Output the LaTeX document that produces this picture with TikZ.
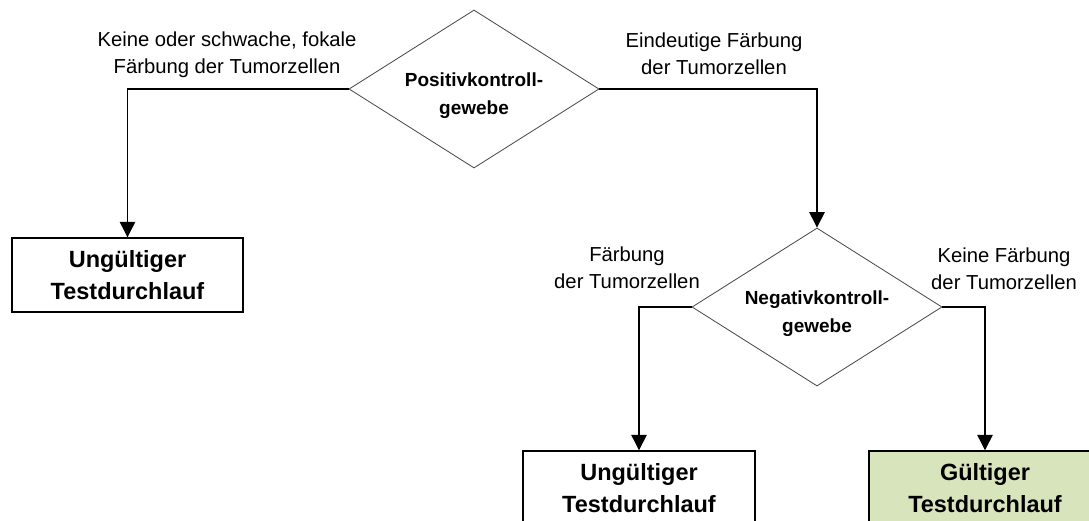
\documentclass[tikz,border=0pt]{standalone}
\usepackage{fontspec}
\setmainfont{Liberation Sans}
\usetikzlibrary{shapes.geometric,arrows.meta}
\definecolor{validGreen}{RGB}{216,228,188}
\newcommand{\dstrut}{\rule{0pt}{19pt}}

\begin{document}
\begin{tikzpicture}[
    x=0.025cm, y=-0.025cm,
    decision/.style={diamond, draw=black!70, line width=0.6pt, aspect=1.6, inner sep=0pt, minimum width=6.25cm, minimum height=3.95cm, font=\fontsize{13.5}{20}\selectfont\bfseries, align=center},
    result/.style={rectangle, draw, line width=1pt, minimum width=5.8cm, minimum height=1.85cm, font=\fontsize{16.7}{22.8}\selectfont\bfseries, align=center},
    branch/.style={font=\fontsize{14.4}{19.2}\selectfont, align=center},
    arrow/.style={-{Triangle[width=11pt,length=11pt]}, line width=0.9pt}
]
    \useasboundingbox (0,0) rectangle (1089,520);

    % Decisions
    \node[decision] (posctrl) at (474,89) {\dstrut Positivkontroll-\\gewebe};
    \node[decision] (negctrl) at (817,307) {\dstrut Negativkontroll-\\gewebe};

    % Results
    \node[result, minimum width=5.78cm] (invalidA) at (127.5,275) {Ungültiger\\Testdurchlauf};
    \node[result] (invalidB) at (639,488) {Ungültiger\\Testdurchlauf};
    \node[result, fill=validGreen] (valid) at (985,488) {Gültiger\\Testdurchlauf};

    % Arrows
    \draw[arrow] (posctrl.west) -| (invalidA.north);
    \draw[arrow] (posctrl.east) -| (negctrl.north);
    \draw[arrow] (negctrl.west) -| (invalidB.north);
    \draw[arrow] (negctrl.east) -| (valid.north);

    % Labels
    \node[branch] (lblposno) at (227,55) {Keine oder schwache, fokale\\Färbung der Tumorzellen};
    \node[branch] (lblposyes) at (714,54) {Eindeutige Färbung\\der Tumorzellen};
    \node[branch] (lblnegyes) at (627,268) {Färbung\\der Tumorzellen};
    \node[branch] (lblnegno) at (1004,269) {Keine Färbung\\der Tumorzellen};
\end{tikzpicture}
\end{document}
